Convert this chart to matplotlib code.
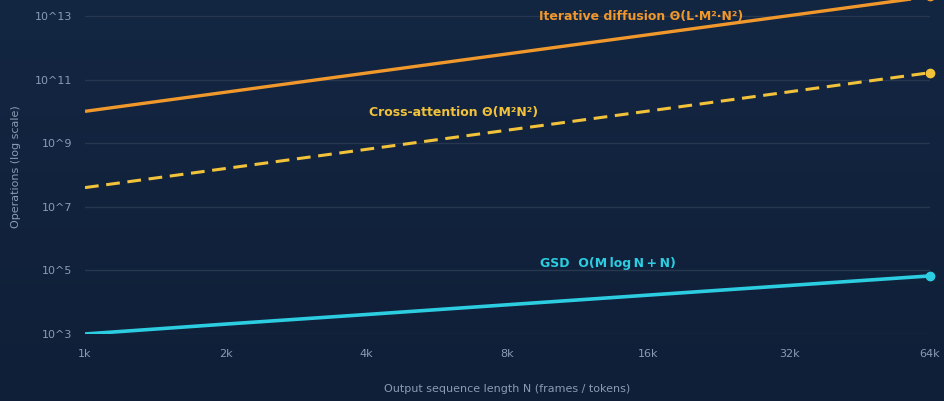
import numpy as np
import matplotlib
matplotlib.use("Agg")
import matplotlib.pyplot as plt
from matplotlib.ticker import FixedLocator, FixedFormatter, NullLocator

# Sequence lengths (tokens) and tick labels
seq_len = [1024, 2048, 4096, 8192, 16384, 32768, 65536]
seq_labels = ["1k", "2k", "4k", "8k", "16k", "32k", "64k"]

# Operation counts per method
iterative_ops = [1.0e10, 4.0e10, 1.6e11, 6.4e11, 2.56e12, 1.02e13, 4.1e13]
cross_attn_ops = [4.0e7, 1.6e8, 6.4e8, 2.56e9, 1.02e10, 4.1e10, 1.64e11]
gsd_ops = [1.0e3, 2.05e3, 4.1e3, 8.3e3, 1.67e4, 3.35e4, 6.7e4]

y_ticks = [1e3, 1e5, 1e7, 1e9, 1e11, 1e13]
y_labels = ["10^3", "10^5", "10^7", "10^9", "10^11", "10^13"]

ORANGE = "#f0982c"
YELLOW = "#f2c23a"
CYAN = "#2ccde0"
TICK = "#8a9bb4"
GRID = "#26374f"

fig = plt.figure(figsize=(9.44, 4.01), dpi=100)

# soft vertical gradient backdrop
bg = fig.add_axes([0, 0, 1, 1], zorder=-10)
grad = np.linspace(0, 1, 256).reshape(-1, 1)
top = np.array([0x13, 0x26, 0x42]) / 255
bot = np.array([0x10, 0x1f, 0x38]) / 255
img = top[None, None, :] * (1 - grad[:, :, None]) + bot[None, None, :] * grad[:, :, None]
bg.imshow(img, aspect="auto", extent=[0, 1, 0, 1])
bg.set_axis_off()

ax = fig.add_axes([85 / 944, 1 - 334 / 401, (930 - 85) / 944, 334 / 401])
ax.set_facecolor("none")
ax.set_xscale("log", base=2)
ax.set_yscale("log")
ax.set_xlim(seq_len[0], seq_len[-1])
ax.set_ylim(1e3, 10 ** 13.5)

ax.plot(seq_len, iterative_ops, color=ORANGE, lw=2.4, solid_capstyle="butt", zorder=3, clip_on=True)
ax.plot(seq_len[-1], iterative_ops[-1], "o", color=ORANGE, ms=6, zorder=4, clip_on=False)
ax.plot(seq_len, cross_attn_ops, color=YELLOW, lw=2.2, ls=(0, (4.5, 2.5)), zorder=3)
ax.plot(seq_len[-1], cross_attn_ops[-1], "o", color=YELLOW, ms=6, zorder=4, clip_on=False)
ax.plot(seq_len, gsd_ops, color=CYAN, lw=2.6, solid_capstyle="butt", zorder=3)
ax.plot(seq_len[-1], gsd_ops[-1], "o", color=CYAN, ms=6, zorder=4, clip_on=False)

ax.text(2 ** 13.95, 10 ** 12.97, "Iterative diffusion \u0398(L\u00b7M\u00b2\u00b7N\u00b2)", color=ORANGE,
        fontsize=9, fontweight="bold", ha="center", va="center")
ax.text(2 ** 12.62, 10 ** 9.95, "Cross-attention \u0398(M\u00b2N\u00b2)", color=YELLOW,
        fontsize=9, fontweight="bold", ha="center", va="center")
ax.text(2 ** 13.71, 10 ** 5.23, "GSD  O(M\u2009log\u2009N\u2009+\u2009N)", color=CYAN,
        fontsize=9, fontweight="bold", ha="center", va="center")

ax.xaxis.set_major_locator(FixedLocator(seq_len))
ax.xaxis.set_major_formatter(FixedFormatter(seq_labels))
ax.xaxis.set_minor_locator(NullLocator())
ax.yaxis.set_major_locator(FixedLocator(y_ticks))
ax.yaxis.set_major_formatter(FixedFormatter(y_labels))
ax.yaxis.set_minor_locator(NullLocator())

ax.tick_params(axis="both", length=0, colors=TICK, labelsize=8)
ax.tick_params(axis="x", pad=11)
ax.tick_params(axis="y", pad=9)
ax.grid(axis="y", color=GRID, lw=1)
ax.grid(axis="x", visible=False)
for s in ax.spines.values():
    s.set_visible(False)

ax.set_xlabel("Output sequence length N (frames / tokens)", color=TICK, fontsize=8, labelpad=18)
ax.set_ylabel("Operations (log scale)", color=TICK, fontsize=8, labelpad=10)

fig.savefig("out.png", dpi=100)
